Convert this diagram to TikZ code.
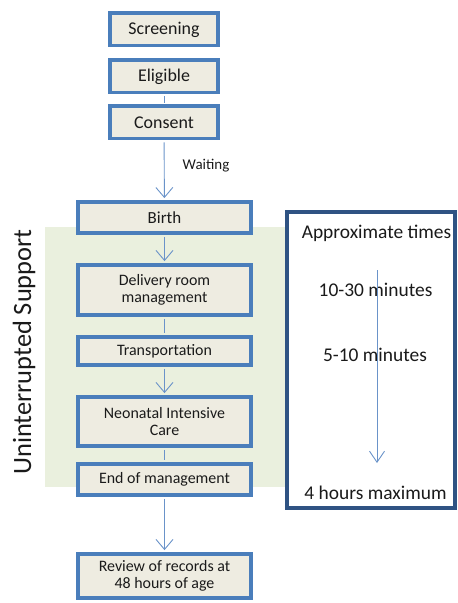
\documentclass[tikz,border=0pt]{standalone}
\usepackage{fontspec}
\setmainfont{Carlito}
\usetikzlibrary{arrows.meta}
\definecolor{boxblue}{HTML}{4A7EBB}
\definecolor{boxfill}{HTML}{EEECE1}
\definecolor{navy}{HTML}{2F5383}
\definecolor{linkblue}{HTML}{6A93C9}
\definecolor{bggreen}{HTML}{EAF0DE}
\definecolor{ink}{HTML}{1A1A1A}
\begin{document}
\begin{tikzpicture}[x=1bp,y=-1bp,
  stagebox/.style={draw=boxblue, line width=3.8bp, fill=boxfill, align=center,
    inner sep=0pt, text=ink, font=\fontsize{16}{17}\selectfont},
  topbox/.style={stagebox, minimum width=108.2bp, minimum height=32.2bp,
    font=\fontsize{18}{20}\selectfont},
  midbox/.style={stagebox, minimum width=173.2bp},
  link/.style={draw=linkblue, line width=0.9bp, shorten <=1.9bp, shorten >=1.9bp},
  arrowlink/.style={link, -{Straight Barb[length=10bp,width=17bp]}},
  timetext/.style={text=ink, inner sep=0pt, font=\fontsize{19.5}{22}\selectfont},
]
\useasboundingbox (0,0) rectangle (458,603);

% green background of uninterrupted support
\fill[bggreen] (45,227) rectangle (287,487);

% flow boxes
\node[topbox] (screening) at (164,29.5) {Screening};
\node[topbox] (eligible) at (164,76.5) {Eligible};
\node[topbox] (consent) at (164,122.5) {Consent};
\node[midbox, minimum height=31.2bp, font=\fontsize{17}{18}\selectfont] (birth) at (164.5,217.5) {Birth};
\node[midbox, minimum height=50.2bp] (delivery) at (164.5,290) {Delivery room\\management};
\node[midbox, minimum height=28.2bp] (transport) at (164.5,351) {Transportation};
\node[midbox, minimum height=49.2bp] (nic) at (164.5,421.5) {Neonatal Intensive\\Care};
\node[midbox, minimum height=31.2bp] (endm) at (164.5,479.5) {End of management};
\node[midbox, minimum height=44.2bp] (review) at (164.5,576) {Review of records at\\48 hours of age};

% connectors
\draw[link] (eligible) -- (consent);
\draw[arrowlink] (consent) -- (birth);
\draw[arrowlink] (birth) -- (delivery);
\draw[link] (delivery) -- (transport);
\draw[arrowlink] (transport) -- (nic);
\draw[link] (nic) -- (endm);
\draw[arrowlink] (endm) -- (review);

\node[text=ink, inner sep=0pt, font=\fontsize{15}{17}\selectfont] (waiting) at (206,166) {Waiting};

% side label
\node[rotate=90, text=ink, inner sep=0pt, font=\fontsize{26.5}{30}\selectfont] (support) at (24,352) {Uninterrupted Support};

% approximate times box
\node[draw=navy, line width=3.8bp, fill=white, minimum width=168.2bp, minimum height=296.2bp, inner sep=0pt] (timesbox) at (371,360) {};
\node[timetext] (approx) at (376.5,233) {Approximate times};
\coordinate (tstart) at (377,270);
\coordinate (tend) at (377,463);
\node[timetext] (t1) at (375.5,290) {10-30 minutes};
\node[timetext] (t2) at (375,355) {5-10 minutes};
\node[timetext] (t3) at (375.5,493) {4 hours maximum};
\draw[draw=linkblue, line width=0.9bp, -{Straight Barb[length=11bp,width=15bp]}] (tstart) -- (tend);
\end{tikzpicture}
\end{document}
